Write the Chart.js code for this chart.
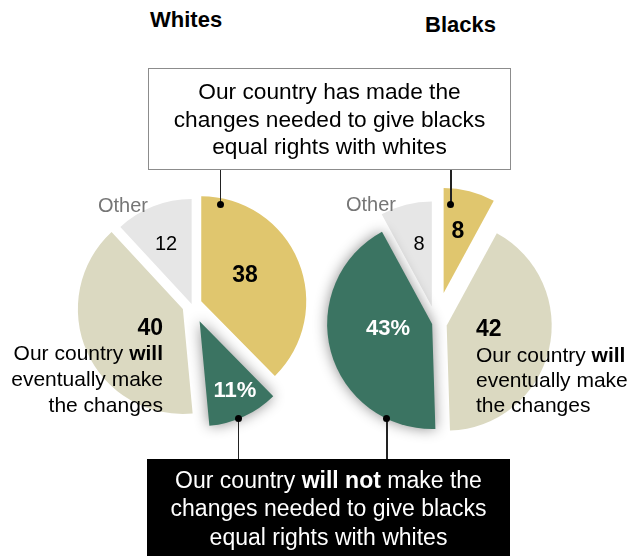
<!DOCTYPE html>
<html><head><meta charset="utf-8">
<script src="https://cdn.jsdelivr.net/npm/chart.js@4.4.1/dist/chart.umd.min.js"></script>
<style>
html,body{margin:0;padding:0;background:#fff;}
#wrap{position:relative;width:638px;height:556px;overflow:hidden;font-family:"Liberation Sans",Arial,sans-serif;color:#000;background:#fff;}
canvas{position:absolute;}
.t{position:absolute;white-space:nowrap;}
.box{position:absolute;box-sizing:border-box;}
.vl{position:absolute;width:1.5px;background:#222;}
.dot{position:absolute;width:7px;height:7px;border-radius:50%;background:#000;}
</style></head><body>
<div id="wrap">
  <canvas id="cw" width="300" height="300" style="left:42px;top:155px"></canvas>
  <canvas id="cb" width="300" height="300" style="left:286px;top:173px"></canvas>
</div>
<script>
// ---- data ----
const groups = ['Whites', 'Blacks'];
const categories = ['Has made the changes', 'Will eventually make the changes', 'Will not make the changes', 'Other'];
const whitesValues = [38, 40, 11, 12];
const blacksValues = [8, 42, 43, 8];
// slice order around each pie (clockwise from 12 o'clock), as indices into categories
const whitesOrder = [0, 2, 1, 3];
const blacksOrder = [0, 1, 2, 3];

// ---- styles ----
const catColors = ['#E0C66E', '#DBD9C1', '#3B7462', '#E6E6E6'];
const whitesExplode = [10, 18, 10, 1];   // px, per slice in drawn order
const blacksExplode = [31, 11, 4, 17];

const explode = {
  id: 'explode',
  beforeDatasetDraw(chart, args, opts) {
    const ctx = chart.ctx;
    const arcs = args.meta.data;
    const idx = arcs.map((_, i) => i).filter(i => i !== opts.shadowIndex);
    idx.push(opts.shadowIndex);
    idx.forEach(i => {
      const arc = arcs[i];
      const mid = (arc.startAngle + arc.endAngle) / 2;
      const d = opts.offsets[i] || 0;
      ctx.save();
      ctx.translate(Math.cos(mid) * d, Math.sin(mid) * d);
      if (i === opts.shadowIndex) {
        ctx.shadowColor = 'rgba(0,0,0,0.45)';
        ctx.shadowBlur = 14;
      }
      arc.draw(ctx);
      ctx.restore();
    });
    return false;
  }
};

function makePie(id, values, order, offsets) {
  const vals = order.map(i => values[i]);
  const cols = order.map(i => catColors[i]);
  const labs = order.map(i => categories[i]);
  const shadowIndex = order.indexOf(2);
  return new Chart(document.getElementById(id), {
    type: 'pie',
    data: { labels: labs, datasets: [{ data: vals, backgroundColor: cols, borderWidth: 0, radius: 105 }] },
    options: {
      responsive: false, animation: false, radius: 105, events: [],
      layout: { padding: 0 },
      plugins: { legend: { display: false }, tooltip: { enabled: false }, explode: { offsets, shadowIndex } }
    },
    plugins: [explode]
  });
}
makePie('cw', whitesValues, whitesOrder, whitesExplode);
makePie('cb', blacksValues, blacksOrder, blacksExplode);

// ---- annotation helpers ----
const wrap = document.getElementById('wrap');
function addEl(cls, css) {
  const d = document.createElement('div');
  d.className = cls;
  Object.assign(d.style, css);
  wrap.appendChild(d);
  return d;
}
function addText(html, o) {
  const fs = o.fs || 21, L = o.lh || fs;
  const d = addEl('t', {
    fontSize: fs + 'px', lineHeight: L + 'px', fontWeight: o.weight || 'normal',
    color: o.color || '#000'
  });
  d.innerHTML = html;
  d.style.top = (o.y - ((L - 1.117 * fs) / 2 + 0.905 * fs)) + 'px';
  if (o.align === 'right') { d.style.right = (638 - o.x) + 'px'; d.style.textAlign = 'right'; }
  else if (o.align === 'center') { d.style.left = (o.x - 300) + 'px'; d.style.width = '600px'; d.style.textAlign = 'center'; }
  else d.style.left = o.x + 'px';
  return d;
}

// leader lines + dots
addEl('vl', { left: '219.8px', top: '169px', height: '35px' });
addEl('dot', { left: '217px', top: '200.5px' });
addEl('vl', { left: '450px', top: '169px', height: '35px' });
addEl('dot', { left: '447px', top: '200.5px' });
addEl('vl', { left: '237.5px', top: '418px', height: '42px' });
addEl('dot', { left: '234.8px', top: '414.8px' });
addEl('vl', { left: '386px', top: '418px', height: '42px' });
addEl('dot', { left: '383.2px', top: '414.8px' });

// boxes
addEl('box', { left: '148px', top: '68px', width: '363px', height: '102px', border: '1px solid #8c8c8c', background: '#fff' });
addEl('box', { left: '147px', top: '459px', width: '363px', height: '97px', background: '#000' });

// titles
addText(groups[0], { x: 150, y: 28, fs: 22, weight: 'bold' });
addText(groups[1], { x: 425, y: 33, fs: 22, weight: 'bold' });

// box texts
addText('Our country has made the<br>changes needed to give blacks<br>equal rights with whites',
  { x: 329.5, y: 100, fs: 22.7, lh: 27.5, align: 'center' });
addText('Our country <b>will not</b> make the<br>changes needed to give blacks<br>equal rights with whites',
  { x: 328.5, y: 488, fs: 23, lh: 28.5, align: 'center', color: '#fff' });

// Whites labels
addText('Other', { x: 98, y: 212, fs: 20, color: '#767676' });
addText(String(whitesValues[3]), { x: 166, y: 250, fs: 20, align: 'center' });
addText(String(whitesValues[0]), { x: 245, y: 282, fs: 23, weight: 'bold', align: 'center' });
addText(String(whitesValues[1]), { x: 163, y: 335, fs: 23, weight: 'bold', align: 'right' });
addText('Our country <b>will</b><br>eventually make<br>the changes', { x: 163, y: 360, fs: 21, lh: 26, align: 'right' });
addText(whitesValues[2] + '%', { x: 235, y: 398, fs: 22, weight: 'bold', align: 'center', color: '#fff' });

// Blacks labels
addText('Other', { x: 346, y: 211, fs: 20, color: '#767676' });
addText(String(blacksValues[3]), { x: 419, y: 250, fs: 20, align: 'center' });
addText(String(blacksValues[0]), { x: 458, y: 238, fs: 23, weight: 'bold', align: 'center' });
addText(blacksValues[2] + '%', { x: 388, y: 336, fs: 22, weight: 'bold', align: 'center', color: '#fff' });
addText(String(blacksValues[1]), { x: 476, y: 336, fs: 23, weight: 'bold' });
addText('Our country <b>will</b><br>eventually make<br>the changes', { x: 476, y: 361.7, fs: 21, lh: 25, align: 'left' });
</script>
</body></html>
